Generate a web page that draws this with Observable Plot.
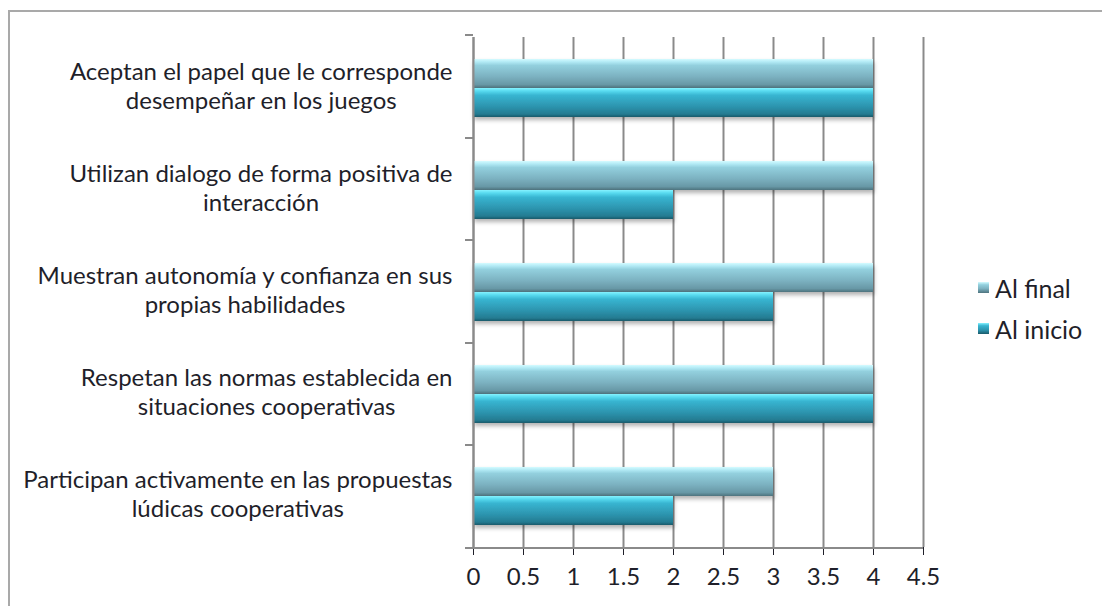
<!DOCTYPE html>
<html>
<head>
<meta charset="utf-8">
<script src="https://cdn.jsdelivr.net/npm/d3@7"></script>
<script src="https://cdn.jsdelivr.net/npm/@observablehq/plot@0.6"></script>
<style>
  html, body { margin: 0; padding: 0; background: #fff; width: 1102px; height: 606px; overflow: hidden; }
  #wrap { position: relative; width: 1102px; height: 606px; font-family: Lato, "Open Sans", sans-serif; }
  #border { position: absolute; left: 8px; top: 10px; width: 1200px; height: 700px; border-left: 2px solid #a9a9a9; border-top: 2px solid #a9a9a9; pointer-events: none; }
  #chart { position: absolute; left: 0; top: 0; }
  #legend { position: absolute; left: 978px; top: 274px; font-size: 25px; color: #1f1f2a; }
  .item { display: flex; align-items: center; height: 27px; margin-bottom: 14px; }
  .sw { width: 11px; height: 11px; margin-right: 6px; }
</style>
</head>
<body>
<div id="wrap">
  <div id="chart"></div>
  <div id="border"></div>
  <div id="legend"></div>
</div>
<script>
const categories = [
  "Aceptan el papel que le corresponde\ndesempeñar en los juegos",
  "Utilizan dialogo de forma positiva de\ninteracción",
  "Muestran autonomía y confianza en sus\npropias habilidades",
  "Respetan las normas establecida en\nsituaciones cooperativas",
  "Participan activamente en las propuestas\nlúdicas cooperativas"
];
const series = ["Al final", "Al inicio"];
const alFinal = [4, 4, 4, 4, 3];
const alInicio = [4, 2, 3, 4, 2];
const xTicks = [0, 0.5, 1, 1.5, 2, 2.5, 3, 3.5, 4, 4.5];
const xTickLabels = ["0", "0.5", "1", "1.5", "2", "2.5", "3", "3.5", "4", "4.5"];

const seriesValues = {"Al final": alFinal, "Al inicio": alInicio};
const gradIds = {"Al final": "gFinal", "Al inicio": "gInicio"};
const data = [];
categories.forEach((c, i) => series.forEach(s => data.push({category: c, series: s, value: seriesValues[s][i]})));

const textColor = "#1f1f2a";
const gridColor = "#8a8a8a";
const mTop = 35, mBottom = 58, H = 606;

const plot = Plot.plot({
  width: 1102,
  height: H,
  marginLeft: 473,
  marginRight: 179,
  marginTop: mTop,
  marginBottom: mBottom,
  style: {fontFamily: "Lato, 'Open Sans', sans-serif", fontSize: "24px", color: textColor, background: "transparent"},
  x: {domain: [0, 4.5], ticks: xTicks, tickFormat: d => xTickLabels[xTicks.indexOf(d)], tickSize: 8, tickPadding: 12, label: null},
  y: {domain: series, paddingInner: 0, paddingOuter: 0.74, axis: null},
  fy: {domain: categories, padding: 0, axis: null},
  marks: [
    Plot.gridX(xTicks, {stroke: gridColor, strokeOpacity: 1, strokeWidth: 2}),
    ...series.map(s => Plot.barX(data.filter(d => d.series === s), {
      x: "value", y: "series", fy: "category",
      fill: `url(#${gradIds[s]})`, className: "bars"
    })),
    Plot.ruleX([0], {stroke: gridColor, strokeWidth: 2}),
    Plot.text(categories, {
      fy: d => d, text: d => d, frameAnchor: "left", dx: -21, dy: -3,
      textAnchor: "end", lineHeight: 1.2, fontSize: 24, fill: textColor, className: "catlabel"
    })
  ]
});
document.getElementById("chart").appendChild(plot);

const svg = d3.select(plot);
const defs = svg.insert("defs", ":first-child");
const stops = {
  gFinal: [[0, "#d4fbff"], [0.1, "#b2eaf5"], [0.22, "#93d0de"], [0.6, "#7cb2c1"], [0.88, "#6898a6"], [1, "#4e737e"]],
  gInicio: [[0, "#86f2ff"], [0.1, "#58dbf0"], [0.25, "#38b5d1"], [0.65, "#2c93ad"], [0.9, "#247b91"], [1, "#1a5a6a"]]
};
for (const id in stops) {
  const gr = defs.append("linearGradient").attr("id", id).attr("x1", 0).attr("y1", 0).attr("x2", 0).attr("y2", 1);
  stops[id].forEach(([o, c]) => gr.append("stop").attr("offset", o).attr("stop-color", c));
}
const flt = defs.append("filter").attr("id", "shadow").attr("x", "-5%").attr("y", "-20%").attr("width", "115%").attr("height", "160%");
flt.append("feDropShadow").attr("dx", 1).attr("dy", 3).attr("stdDeviation", 2).attr("flood-color", "#000").attr("flood-opacity", 0.3);
svg.selectAll("g.bars rect").attr("filter", "url(#shadow)");

// axis lines and category tick marks
const xs = plot.scale("x");
const xA = xs.apply(0), xB = xs.apply(4.5);
const yTop = mTop, yBottom = H - mBottom;
const ax = svg.append("g").attr("stroke", gridColor).attr("stroke-width", 2);
ax.append("line").attr("x1", xA).attr("x2", xB).attr("y1", yBottom).attr("y2", yBottom);
const n = categories.length;
for (let i = 0; i <= n; i++) {
  const y = Math.round(yTop + (yBottom - yTop) * i / n);
  ax.append("line").attr("x1", xA - 8).attr("x2", xA).attr("y1", y).attr("y2", y);
}

// center lines within each right-aligned label block
svg.selectAll("g.catlabel text").each(function() {
  const w = this.getBBox().width;
  const t = d3.select(this);
  t.attr("text-anchor", "middle").attr("transform", (t.attr("transform") || "") + ` translate(${-w / 2},0)`);
});

// legend
const legend = d3.select("#legend");
const legendBg = {
  "Al final": "linear-gradient(#d4fbff, #93d0de 25%, #7cb2c1 60%, #4e737e)",
  "Al inicio": "linear-gradient(#86f2ff, #38b5d1 25%, #2c93ad 65%, #1a5a6a)"
};
series.forEach(s => {
  const it = legend.append("div").attr("class", "item");
  it.append("div").attr("class", "sw").style("background", legendBg[s]);
  it.append("span").text(s);
});
</script>
</body>
</html>
